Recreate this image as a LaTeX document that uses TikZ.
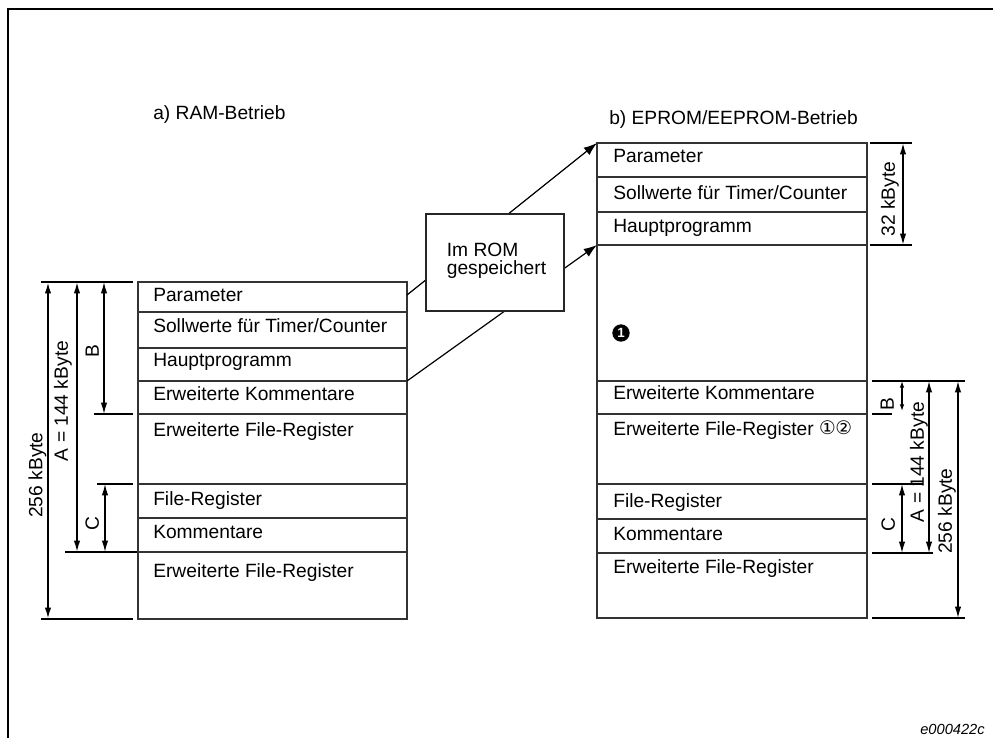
\documentclass[tikz,border=0pt]{standalone}
\usepackage{fontspec}
\setmainfont{Liberation Sans}
\newfontfamily\symfont{DejaVu Sans}
\usetikzlibrary{arrows.meta}

\tikzset{
  frameline/.style={line width=1.5pt},
  tbl/.style={draw=black!80, line width=1.1pt},
  txt/.style={anchor=base west, inner sep=0pt, font=\fontsize{14.4}{17}\selectfont},
  vtxt/.style={rotate=90, inner sep=0pt, text height=10.3pt, text depth=0pt, font=\fontsize{14.4}{17}\selectfont},
  dimarrow/.style={line width=#1, {Latex[length=8.5pt,width=4.8pt]}-{Latex[length=8.5pt,width=4.8pt]}},
  dimarrow/.default=1pt,
  smalldim/.style={line width=0.9pt, {Latex[length=5pt,width=3.5pt]}-{Latex[length=5pt,width=3.5pt]}},
  thicktick/.style={line width=1.5pt},
  thintick/.style={line width=0.8pt},
  flow/.style={line width=0.9pt, -{Latex[length=10pt,width=7pt]}},
  rombox/.style={draw=black!85, line width=1pt, fill=white, minimum width=103.5pt, minimum height=72.75pt, inner sep=0pt},
}

\begin{document}
\begin{tikzpicture}[x=0.75pt, y=-0.75pt]
\useasboundingbox (0,0) rectangle (993,738);

% page frame (top and left edge)
\draw[frameline] (8,738) -- (8,9) -- (993,9);

% headings
\node[txt] (ha) at (153,120) {a) RAM-Betrieb};
\node[txt] (hb) at (609,125) {b) EPROM/EEPROM-Betrieb};

% ---------- left memory map (RAM) ----------
\draw[tbl] (138,282) rectangle (407,619);
\foreach \yy in {312,348,381,414,484,518,552}
  \draw[tbl] (138,\yy) -- (407,\yy);
\node[txt] (lpar) at (153,301) {Parameter};
\node[txt] (lsoll) at (153,332) {Sollwerte für Timer/Counter};
\node[txt] (lhaupt) at (153,366) {Hauptprogramm};
\node[txt] (lek) at (153,400) {Erweiterte Kommentare};
\node[txt] (lefr) at (153,436) {Erweiterte File-Register};
\node[txt] (lfr) at (153,505) {File-Register};
\node[txt] (lkom) at (153,538) {Kommentare};
\node[txt] (lefr2) at (153,577) {Erweiterte File-Register};

% left dimension lines
\draw[thicktick] (41,282) -- (133,282);
\draw[thicktick] (41,619) -- (133,619);
\draw[thicktick] (65,552) -- (137,552);
\draw[thintick] (94,414) -- (133,414);
\draw[thintick] (97,484) -- (133,484);
\draw[dimarrow=1.5pt] (48,282) -- (48,619);
\draw[dimarrow=1.2pt] (77,282) -- (77,552);
\draw[dimarrow] (104,282) -- (104,414);
\draw[dimarrow] (105,484) -- (105,552);
\node[vtxt] (l256) at (35.5,475) {256 kByte};
\node[vtxt] (lA) at (61,401) {A = 144 kByte};
\node[vtxt] (lB) at (92,351) {B};
\node[vtxt] (lC) at (92,524) {C};

% ---------- right memory map (EPROM/EEPROM) ----------
\draw[tbl] (597,143) rectangle (867,618);
\foreach \yy in {177,212,245,381,414,484,519,553}
  \draw[tbl] (597,\yy) -- (867,\yy);
\node[txt] (rpar) at (613,163) {Parameter};
\node[txt] (rsoll) at (613,200) {Sollwerte für Timer/Counter};
\node[txt] (rhaupt) at (613,233) {Hauptprogramm};
\node[txt] (rek) at (613,399) {Erweiterte Kommentare};
\node[txt] (refr) at (613,435) {Erweiterte File-Register\hspace{4pt}\raisebox{0.5pt}{\symfont\fontsize{14}{14}\selectfont ①\kern-0.5pt②}};
\node[txt] (rfr) at (613,507) {File-Register};
\node[txt] (rkom) at (613,540) {Kommentare};
\node[txt] (refr2) at (613,573) {Erweiterte File-Register};

% note marker
\node[circle, fill=black, minimum size=13pt, inner sep=0pt,
      text=white, font=\bfseries\fontsize{10}{12}\selectfont] (note) at (621,333) {1};

% right dimension lines
\draw[thicktick] (870,143) -- (912,143);
\draw[thicktick] (870,245) -- (912,245);
\draw[dimarrow=1.2pt] (903,143) -- (903,245);
\node[vtxt] (r32) at (888,199) {32 kByte};

\draw[thicktick] (872,381) -- (965,381);
\draw[thicktick] (872,618) -- (965,618);
\draw[thintick] (872,414) -- (892,414);
\draw[thintick] (872,484) -- (923,484);
\draw[thintick] (872,553) -- (933,553);
\draw[smalldim] (902,381) -- (902,411);
\draw[dimarrow] (902,484) -- (902,553);
\draw[dimarrow] (929,381) -- (929,553);
\draw[dimarrow] (958,381) -- (958,618);
\node[vtxt] (rB) at (887,404) {B};
\node[vtxt] (rC) at (888,525) {C};
\node[vtxt] (rA) at (917,462) {A = 144 kByte};
\node[vtxt] (r256) at (945,511) {256 kByte};

% ---------- transfer to ROM ----------
\coordinate (srcP) at (407,295);
\coordinate (dstP) at (597,143);
\coordinate (srcH) at (407,381);
\coordinate (dstH) at (597,245);
\draw[flow] (srcP) -- (dstP);
\draw[flow] (srcH) -- (dstH);
\node[rombox] (rom) at (495,262.5) {};
\node[inner sep=0pt, align=left, font=\fontsize{14.4}{13.5}\selectfont] (romtxt) at (496.5,261) {Im ROM\\gespeichert};

% drawing number
\node[anchor=base east, inner sep=0pt, font=\itshape\fontsize{11}{13}\selectfont] (fig) at (985,734) {e000422c};
\end{tikzpicture}
\end{document}
